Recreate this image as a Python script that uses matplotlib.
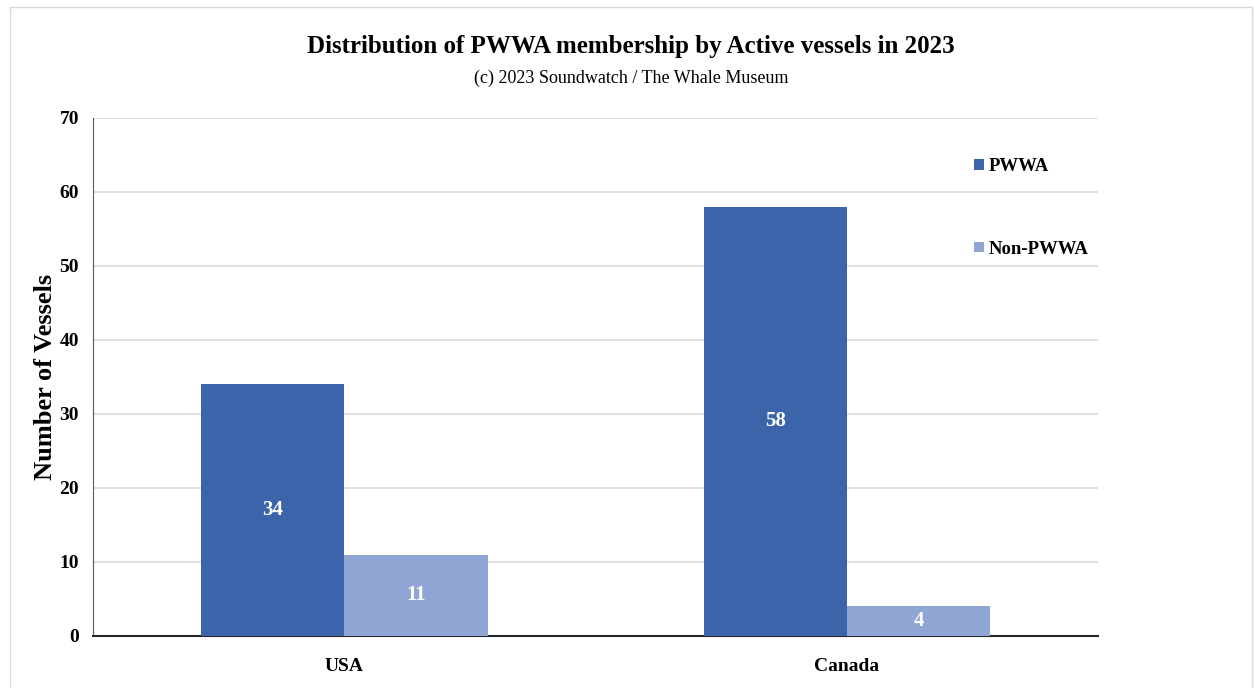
import numpy as np
import matplotlib.pyplot as plt
from matplotlib.patches import Rectangle

plt.rcParams['font.family'] = ['Liberation Serif', 'DejaVu Serif']

countries = ['USA', 'Canada']
pwwa = [34, 58]
non_pwwa = [11, 4]
series_names = ['PWWA', 'Non-PWWA']
colors = ['#3c64ab', '#8fa5d4']

fig = plt.figure(figsize=(12.55, 6.88), dpi=100)
ax = fig.add_axes([0.0741, 0.0756, 0.8009, 0.7529])

x = np.arange(len(countries))
w = 0.285
b1 = ax.bar(x - w / 2, pwwa, w, color=colors[0], label=series_names[0], zorder=3)
b2 = ax.bar(x + w / 2, non_pwwa, w, color=colors[1], label=series_names[1], zorder=3)

for bars in (b1, b2):
    for r in bars:
        h = r.get_height()
        ax.text(r.get_x() + r.get_width() / 2, h / 2, str(int(h)), ha='center', va='center',
                color='white', fontsize=15, fontweight='bold', zorder=4)

ax.set_xlim(-0.5, 1.5)
ax.set_ylim(0, 70)
ax.set_yticks(range(0, 71, 10))
ax.set_xticks(x)
ax.set_xticklabels(countries, fontsize=14, fontweight='bold')
for t in ax.get_yticklabels():
    t.set_fontsize(14)
    t.set_fontweight('bold')
ax.tick_params(axis='both', length=0, pad=10)
ax.tick_params(axis='x', pad=16)
ax.grid(axis='y', color='#d9d9d9', linewidth=1.2, zorder=0)
ax.set_axisbelow(True)
for s in ['top', 'right']:
    ax.spines[s].set_visible(False)
ax.spines['left'].set_color('#595959')
ax.spines['bottom'].set_color('#262626')
ax.spines['bottom'].set_linewidth(1.5)
ax.set_ylabel('Number of Vessels', fontsize=19, fontweight='bold', labelpad=2)

leg = ax.legend(loc='upper left', bbox_to_anchor=(0.86, 0.955), frameon=False,
                prop={'size': 13.5, 'weight': 'bold'}, labelspacing=3.5,
                handlelength=0.5, handleheight=0.5, handletextpad=0.25)

fig.text(0.503, 0.932, 'Distribution of PWWA membership by Active vessels in 2023',
         ha='center', va='center', fontsize=18, fontweight='bold')
fig.text(0.503, 0.886, '(c) 2023 Soundwatch / The Whale Museum',
         ha='center', va='center', fontsize=13)

fig.patches.append(Rectangle((0.008, -0.01), 0.99, 1.0, transform=fig.transFigure,
                             fill=False, edgecolor='#d9d9d9', linewidth=1))

fig.savefig('out.png', dpi=100)
